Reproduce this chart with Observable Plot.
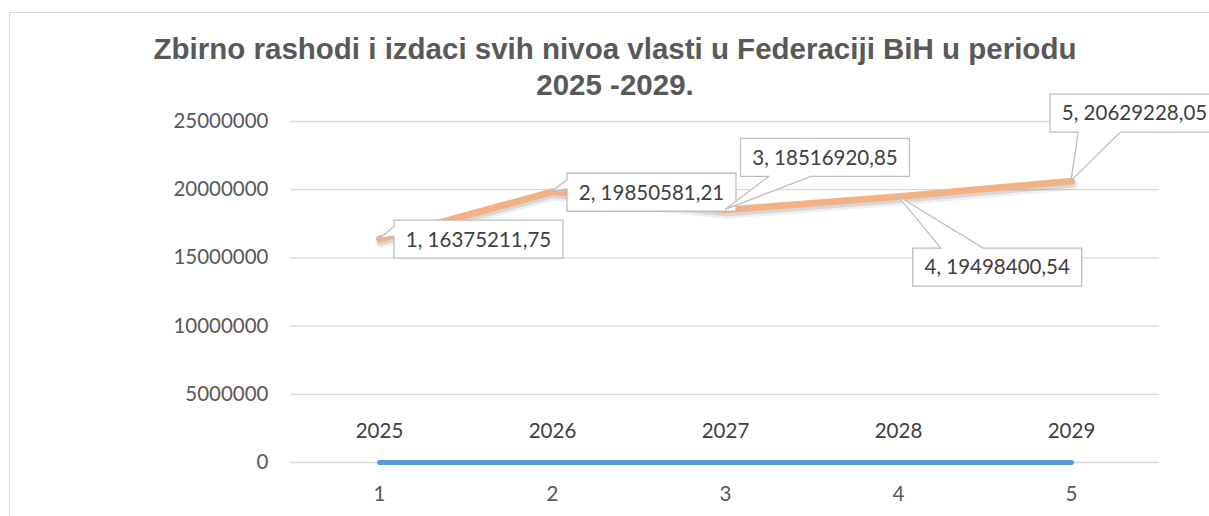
<!DOCTYPE html>
<html>
<head>
<meta charset="utf-8">
<script src="https://cdn.jsdelivr.net/npm/d3@7"></script>
<script src="https://cdn.jsdelivr.net/npm/@observablehq/plot@0.6"></script>
<style>
  html, body { margin: 0; padding: 0; background: #fff; width: 1209px; height: 516px; overflow: hidden; }
  #frame { position: absolute; left: 9px; top: 12px; width: 1400px; height: 700px; border: 1px solid #d9d9d9; box-sizing: border-box; }
  #title { position: absolute; left: 0; top: 31px; width: 1230px; text-align: center;
           font-family: "Liberation Sans", Arial, sans-serif; font-weight: bold; font-size: 29.5px;
           line-height: 36px; color: #595959; }
  #chart { position: absolute; left: 0; top: 0; }
</style>
</head>
<body>
<div id="frame"></div>
<div id="chart"></div>
<div id="title">Zbirno rashodi i izdaci svih nivoa vlasti u Federaciji BiH u periodu<br>2025 -2029.</div>
<script>
// ---- data ----
const categories = [1, 2, 3, 4, 5];
const years = [2025, 2026, 2027, 2028, 2029];
const totals = [16375211.75, 19850581.21, 18516920.85, 19498400.54, 20629228.05];
const yTicks = [0, 5000000, 10000000, 15000000, 20000000, 25000000];

// ---- layout (callout box offsets from their point, px) ----
const calloutOffsets = [[15, -18.5], [15, -18], [15.5, -71], [14.7, 52], [-21, -86.5]];
const BOX_W = 169, BOX_H = 38;

const rows = categories.map((c, i) => ({cat: c, year: years[i], total: totals[i]}));
const labelText = (c, v) => `${c}, ${v.toFixed(2).replace(".", ",")}`;

function wedgeRect(l, t, r, b, px, py) {
  const w = r - l, h = b - t, hc = (l + r) / 2, vc = (t + b) / 2;
  const dx = px - hc, dy = py - vc;
  const xa = l + w * (dx > 0 ? 7 : 2) / 12, xb = l + w * (dx > 0 ? 10 : 5) / 12;
  const ya = t + h * (dy > 0 ? 7 : 2) / 12, yb = t + h * (dy > 0 ? 10 : 5) / 12;
  const horiz = Math.abs(dx) * h > Math.abs(dy) * w;
  const pts = [[l, t]];
  if (!horiz && dy < 0) pts.push([xa, t], [px, py], [xb, t]);
  pts.push([r, t]);
  if (horiz && dx > 0) pts.push([r, ya], [px, py], [r, yb]);
  pts.push([r, b]);
  if (!horiz && dy > 0) pts.push([xb, b], [px, py], [xa, b]);
  pts.push([l, b]);
  if (horiz && dx < 0) pts.push([l, yb], [px, py], [l, ya]);
  return "M" + pts.map(p => p.join(",")).join("L") + "Z";
}

function callouts(index, scales) {
  const g = d3.create("svg:g");
  rows.forEach((d, i) => {
    const px = scales.x(d.cat), py = scales.y(d.total);
    const [ox, oy] = calloutOffsets[i];
    const l = px + ox, t = py + oy, r = l + BOX_W, b = t + BOX_H;
    g.append("path").attr("d", wedgeRect(l, t, r, b, px, py))
      .attr("fill", "#fff").attr("stroke", "#bfbfbf").attr("stroke-width", 1.3);
    g.append("text").attr("x", (l + r) / 2).attr("y", (t + b) / 2).attr("dy", "0.36em")
      .attr("text-anchor", "middle").attr("fill", "#404040")
      .text(labelText(d.cat, d.total));
  });
  return g.node();
}

const lineOpts = {x: "cat", y: "total", strokeLinecap: "round", strokeLinejoin: "round"};

const plot = Plot.plot({
  width: 1209,
  height: 516,
  marginLeft: 290,
  marginRight: 50,
  marginTop: 121,
  marginBottom: 54,
  style: {fontFamily: "Lato, 'Open Sans', sans-serif", fontSize: "20.5px", color: "#595959", background: "transparent"},
  x: {type: "point", domain: categories, padding: 0.5, label: null},
  y: {domain: [0, 25000000], label: null},
  marks: [
    Plot.gridY(yTicks, {stroke: "#d9d9d9", strokeOpacity: 1, strokeWidth: 1.3}),
    Plot.axisY(yTicks, {tickSize: 0, tickPadding: 22, tickFormat: d => String(d), fill: "#595959", label: null}),
    Plot.axisX(categories, {tickSize: 0, tickPadding: 24, fill: "#595959", label: null}),
    Plot.line(rows, {x: "cat", y: "year", stroke: "#5B9BD5", strokeWidth: 5, strokeLinecap: "round", strokeLinejoin: "round"}),
    Plot.text(rows, {x: "cat", y: "year", text: d => String(d.year), dy: -31, fill: "#404040"}),
    // soft shadow under the totals line (layered, no filter)
    Plot.line(rows, {...lineOpts, stroke: "#000", strokeOpacity: 0.06, strokeWidth: 10, dx: 1.5, dy: 4}),
    Plot.line(rows, {...lineOpts, stroke: "#000", strokeOpacity: 0.10, strokeWidth: 7, dx: 1, dy: 3}),
    Plot.line(rows, {...lineOpts, stroke: "#F4B183", strokeWidth: 6.8}),
    callouts
  ]
});

document.getElementById("chart").appendChild(plot);
</script>
</body>
</html>
